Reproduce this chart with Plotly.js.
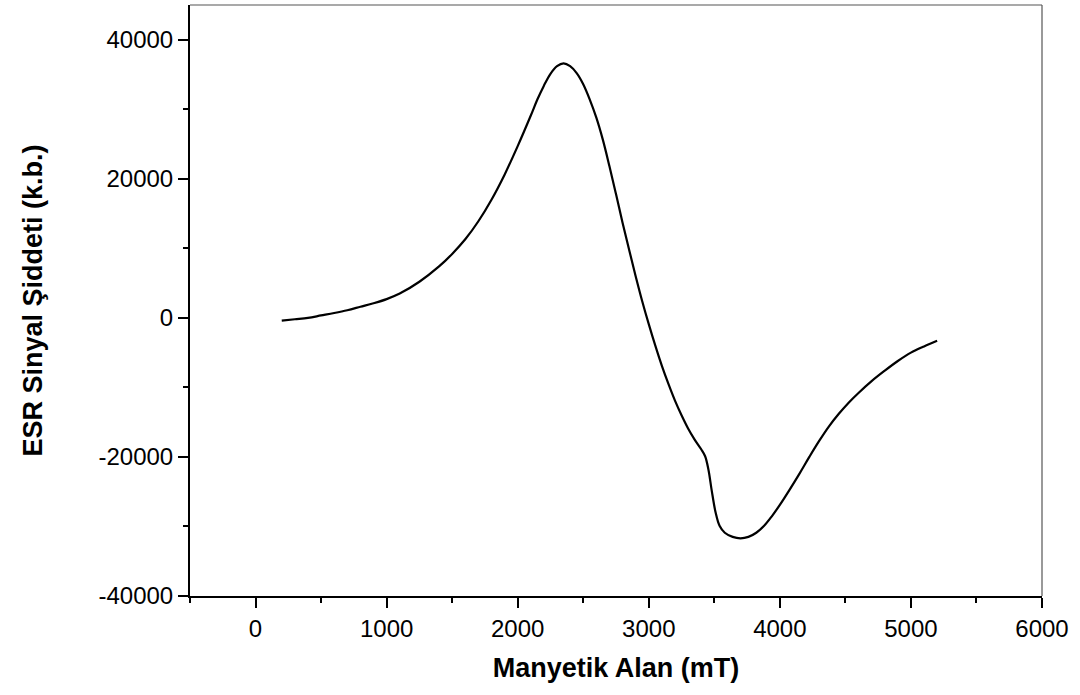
<!DOCTYPE html>
<html>
<head>
<meta charset="utf-8">
<script src="https://cdn.plot.ly/plotly-3.0.1.min.js"></script>
<style>
  html, body { margin: 0; padding: 0; background: #fff; }
  #chart { width: 1080px; height: 695px; }
</style>
</head>
<body>
<div id="chart"></div>
<script>
// ESR spectrum: magnetic field (mT) vs signal intensity (a.u.)
const fieldMT = [200, 300, 400, 500, 600, 700, 800, 900, 1000, 1100, 1250, 1400, 1500, 1600, 1700, 1800, 1900, 2000, 2100, 2150, 2200, 2250, 2300, 2350, 2400, 2450, 2500, 2550, 2600, 2650, 2700, 2750, 2800, 2850, 2900, 2950, 3000, 3050, 3100, 3150, 3200, 3250, 3300, 3350, 3400, 3430, 3455, 3480, 3510, 3540, 3580, 3640, 3700, 3760, 3820, 3880, 3940, 4000, 4075, 4150, 4225, 4300, 4375, 4450, 4525, 4600, 4700, 4800, 4900, 5000, 5100, 5200];
const signal = [-400, -200, 0, 350, 700, 1100, 1600, 2100, 2700, 3500, 5200, 7400, 9200, 11300, 13900, 17000, 20600, 24700, 29100, 31400, 33400, 35100, 36200, 36600, 36200, 35200, 33600, 31400, 28800, 25600, 21800, 17800, 13700, 9800, 6000, 2400, -900, -4000, -6900, -9500, -11900, -14000, -15900, -17500, -18900, -19900, -21800, -24800, -28000, -29900, -30900, -31500, -31700, -31500, -30900, -29900, -28500, -26900, -24700, -22400, -20000, -17700, -15600, -13800, -12200, -10800, -9100, -7600, -6200, -5000, -4100, -3300];

const xTickVals = [0, 1000, 2000, 3000, 4000, 5000, 6000];
const yTickVals = [-40000, -20000, 0, 20000, 40000];

const tickFont = { family: 'Liberation Sans, Arial, sans-serif', size: 24, color: '#000' };
const titleFont = { family: 'Liberation Sans, Arial, sans-serif', size: 27, color: '#000', weight: 'bold' };

const trace = {
  x: fieldMT,
  y: signal,
  type: 'scatter',
  mode: 'lines',
  line: { color: '#000', width: 2.2, shape: 'spline', smoothing: 1 },
  hoverinfo: 'x+y'
};

const layout = {
  width: 1080,
  height: 695,
  margin: { l: 190, r: 38, t: 5, b: 99 },
  paper_bgcolor: '#fff',
  plot_bgcolor: '#fff',
  showlegend: false,
  xaxis: {
    range: [-500, 6000],
    tickmode: 'array',
    tickvals: xTickVals,
    ticktext: xTickVals.map(String),
    ticks: 'outside',
    ticklen: 10,
    tickwidth: 2,
    tickcolor: '#000',
    showline: true,
    linecolor: '#000',
    linewidth: 2,
    showgrid: false,
    zeroline: false,
    tickfont: tickFont,
    minor: { dtick: 500, tick0: 0, ticks: 'outside', ticklen: 5, tickwidth: 2, tickcolor: '#000', showgrid: false },
    title: { text: 'Manyetik Alan (mT)', font: titleFont, standoff: 17 }
  },
  yaxis: {
    range: [-40000, 45000],
    tickmode: 'array',
    tickvals: yTickVals,
    ticktext: yTickVals.map(String),
    ticks: 'outside',
    ticklen: 10,
    tickwidth: 2,
    tickcolor: '#000',
    showline: true,
    linecolor: '#000',
    linewidth: 2,
    showgrid: false,
    zeroline: false,
    tickfont: tickFont,
    minor: { dtick: 10000, tick0: 0, ticks: 'outside', ticklen: 5, tickwidth: 2, tickcolor: '#000', showgrid: false },
    title: { text: 'ESR Sinyal Şiddeti (k.b.)', font: titleFont, standoff: 48 }
  },
  shapes: [
    // thin frame on the top and right sides
    { type: 'line', xref: 'paper', yref: 'paper', x0: 0, x1: 1, y0: 1, y1: 1, line: { color: '#555', width: 1.2 } },
    { type: 'line', xref: 'paper', yref: 'paper', x0: 1, x1: 1, y0: 0, y1: 1, line: { color: '#555', width: 1.2 } }
  ]
};

Plotly.newPlot('chart', [trace], layout, { displayModeBar: false, staticPlot: true });
</script>
</body>
</html>
